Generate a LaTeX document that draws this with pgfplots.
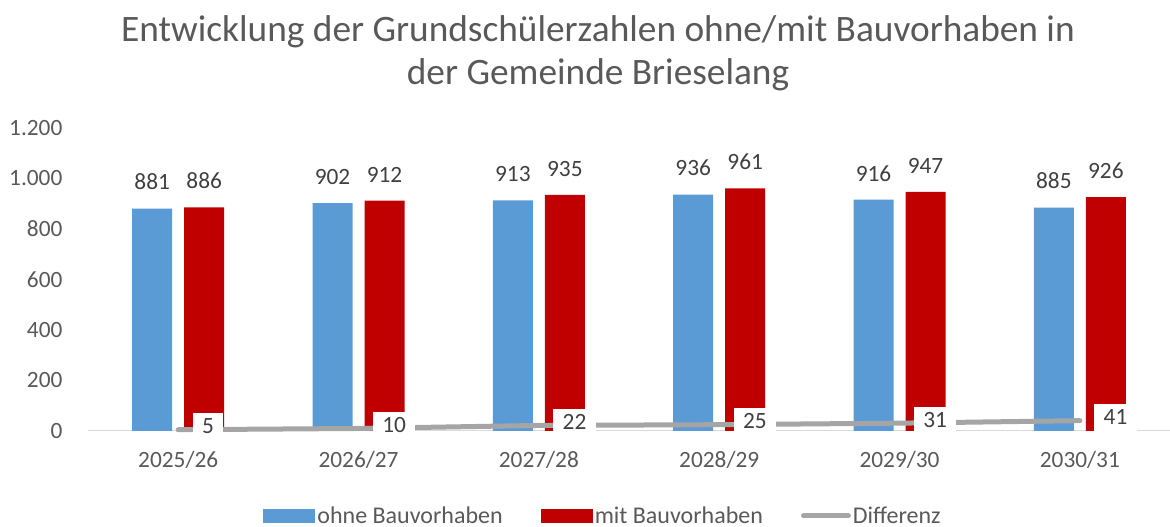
\documentclass[border=0pt]{standalone}
\usepackage{fontspec}
\setmainfont{Carlito}
\usepackage{pgfplots}
\pgfplotsset{compat=1.18}
\definecolor{cblue}{HTML}{5B9BD5}
\definecolor{cred}{HTML}{C00000}
\definecolor{cgray}{HTML}{A5A5A5}
\definecolor{caxis}{HTML}{D9D9D9}
\definecolor{ctext}{HTML}{595959}
\definecolor{clabel}{HTML}{404040}

\begin{document}
\begin{tikzpicture}
\useasboundingbox (0pt,0pt) rectangle (877.5pt,395.25pt);
% Titel
\node[anchor=base, text=ctext, font=\fontsize{28}{33}\selectfont] at (448.5pt,363.75pt)
  {Entwicklung der Grundschülerzahlen ohne/mit Bauvorhaben in};
\node[anchor=base, text=ctext, font=\fontsize{28}{33}\selectfont] at (448.5pt,331.5pt)
  {der Gemeinde Brieselang};
\begin{axis}[
    at={(66pt,72pt)}, anchor=south west,
    scale only axis,
    width=811.5pt, height=227.25pt,
    xmin=-0.5, xmax=5.5,
    ymin=0, ymax=1200,
    xtick={0,...,5},
    xticklabels={2025/26,2026/27,2027/28,2028/29,2029/30,2030/31},
    ytick={0,200,...,1200},
    axis x line*=bottom, axis y line*=left,
    y axis line style={draw=none},
    x axis line style={draw=caxis, line width=0.75pt},
    major tick length=0pt,
    tick style={draw=none},
    clip=false,
    /pgf/number format/assume math mode=true,
    /pgf/number format/1000 sep={.},
    ticklabel style={font=\fontsize{17.5}{20}\selectfont, text=ctext},
    yticklabel style={anchor=east, inner sep=0pt, xshift=-19pt},
    xticklabel style={anchor=base, inner sep=0pt, yshift=-27.75pt},
    legend columns=3,
    legend style={at={(0.476,-0.2805)}, anchor=center, draw=none, fill=none,
      font=\fontsize{18}{21}\selectfont, text=ctext,
      nodes={inner xsep=1.5pt},
      /tikz/every even column/.append style={column sep=27pt}},
    legend cell align=left,
]

% ohne Bauvorhaben
\addplot[ybar, bar width=30pt, bar shift=-19.5pt, fill=cblue, draw=none,
    nodes near coords,
    every node near coord/.append style={anchor=base, yshift=14pt, xshift=-19.5pt,
      font=\fontsize{17.5}{20}\selectfont, text=clabel},
    legend image code/.code={\fill[cblue] (0pt,-5.25pt) rectangle (39pt,5.25pt);}]
coordinates {(0,881) (1,902) (2,913) (3,936) (4,916) (5,885)};
\addlegendentry{ohne Bauvorhaben}

% mit Bauvorhaben
\addplot[ybar, bar width=30pt, bar shift=19.5pt, fill=cred, draw=none,
    nodes near coords,
    every node near coord/.append style={anchor=base, yshift=14pt, xshift=19.5pt,
      font=\fontsize{17.5}{20}\selectfont, text=clabel},
    legend image code/.code={\fill[cred] (0pt,-5.25pt) rectangle (39pt,5.25pt);}]
coordinates {(0,886) (1,912) (2,935) (3,961) (4,947) (5,926)};
\addlegendentry{mit Bauvorhaben}

% Differenz
\addplot[cgray, line width=3.75pt, line cap=round, mark=none,
    nodes near coords,
    every node near coord/.append style={anchor=west, fill=white, xshift=9pt,
      inner xsep=7pt, inner ysep=9.25pt, text height=0.63em, text depth=0pt,
      font=\fontsize{17.5}{20}\selectfont, text=clabel},
    legend image code/.code={\draw[cgray, line width=3.75pt, line cap=round] (1.9pt,0pt) -- (35.6pt,0pt);}]
coordinates {(0,5) (1,10) (2,22) (3,25) (4,31) (5,41)};
\addlegendentry{Differenz}

\end{axis}
\end{tikzpicture}
\end{document}
